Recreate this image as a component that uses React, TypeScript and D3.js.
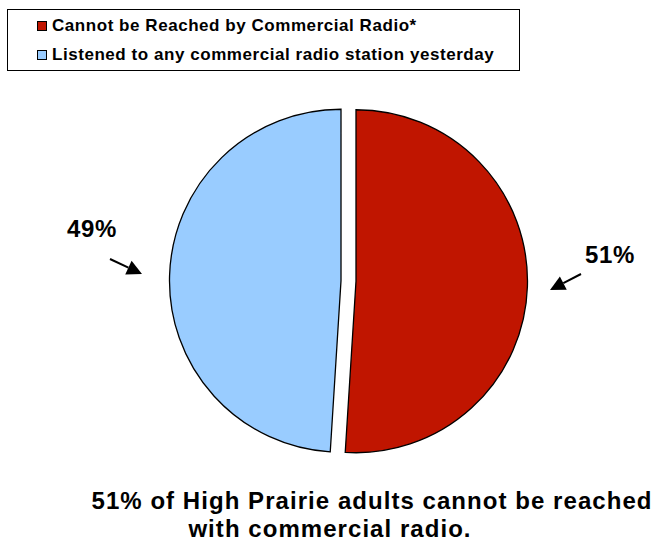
import React from "react";
import * as d3 from "d3";

const categories = ["Cannot be Reached by Commercial Radio*", "Listened to any commercial radio station yesterday"];
const values = [51, 49];
const colors = ["#C01500", "#99CCFF"];
const pctLabels = ["51%", "49%"];
const titleLines = ["51% of High Prairie adults cannot be reached", "with commercial radio."];

const W = 655;
const H = 543;
const FONT = "'Liberation Sans', Arial, Helvetica, sans-serif";

export default function App() {
  const cx = 348.5;
  const cy = 281;
  const r = 171.5;
  const explode = 7.5;
  const pie = d3.pie<number>().sort(null).startAngle(0).endAngle(2 * Math.PI);
  const arcs = pie(values);
  const arcGen = d3.arc<d3.PieArcDatum<number>>().innerRadius(0).outerRadius(r);

  const arrow = (x1: number, y1: number, x2: number, y2: number) => {
    const ang = Math.atan2(y2 - y1, x2 - x1);
    const hl = 15;
    const hw = 7.5;
    const bx = x2 - hl * Math.cos(ang);
    const by = y2 - hl * Math.sin(ang);
    const px = -Math.sin(ang) * hw;
    const py = Math.cos(ang) * hw;
    return (
      <g>
        <line x1={x1} y1={y1} x2={bx} y2={by} stroke="#000" strokeWidth={2} />
        <path d={`M${x2},${y2}L${bx + px},${by + py}L${bx - px},${by - py}Z`} fill="#000" />
      </g>
    );
  };

  return (
    <svg width={W} height={H} style={{ position: "absolute", left: 0, top: 0, display: "block" }} fontFamily={FONT}>
      <rect x={0} y={0} width={W} height={H} fill="#fff" />
      {/* legend */}
      <rect x={7.5} y={9.5} width={512} height={61} fill="#fff" stroke="#000" strokeWidth={1} />
      {categories.map((c, i) => (
        <g key={c}>
          <rect x={37.5} y={i === 0 ? 21.5 : 50.5} width={9} height={9} fill={colors[i]} stroke="#000" strokeWidth={1} />
          <text x={52} y={i === 0 ? 31 : 60} fontSize={17} fontWeight="bold" letterSpacing={0.55} fill="#000">
            {c}
          </text>
        </g>
      ))}
      {/* pie */}
      {arcs.map((a, i) => {
        const mid = (a.startAngle + a.endAngle) / 2;
        const dx = explode * Math.sin(mid);
        const dy = -explode * Math.cos(mid);
        return (
          <path
            key={i}
            d={arcGen(a) || ""}
            transform={`translate(${cx + dx},${cy + dy})`}
            fill={colors[i]}
            stroke="#000"
            strokeWidth={1.3}
          />
        );
      })}
      {/* labels */}
      <text x={67} y={237} fontSize={24} fontWeight="bold" letterSpacing={0.6}>{pctLabels[1]}</text>
      <text x={585} y={263} fontSize={24} fontWeight="bold" letterSpacing={0.6}>{pctLabels[0]}</text>
      {arrow(110, 259, 142, 274)}
      {arrow(581, 274, 550, 290)}
      {/* title */}
      <text x={372} y={509} textAnchor="middle" fontSize={24} fontWeight="bold" letterSpacing={1.05}>{titleLines[0]}</text>
      <text x={330} y={537} textAnchor="middle" fontSize={24} fontWeight="bold" letterSpacing={1.05}>{titleLines[1]}</text>
    </svg>
  );
}
